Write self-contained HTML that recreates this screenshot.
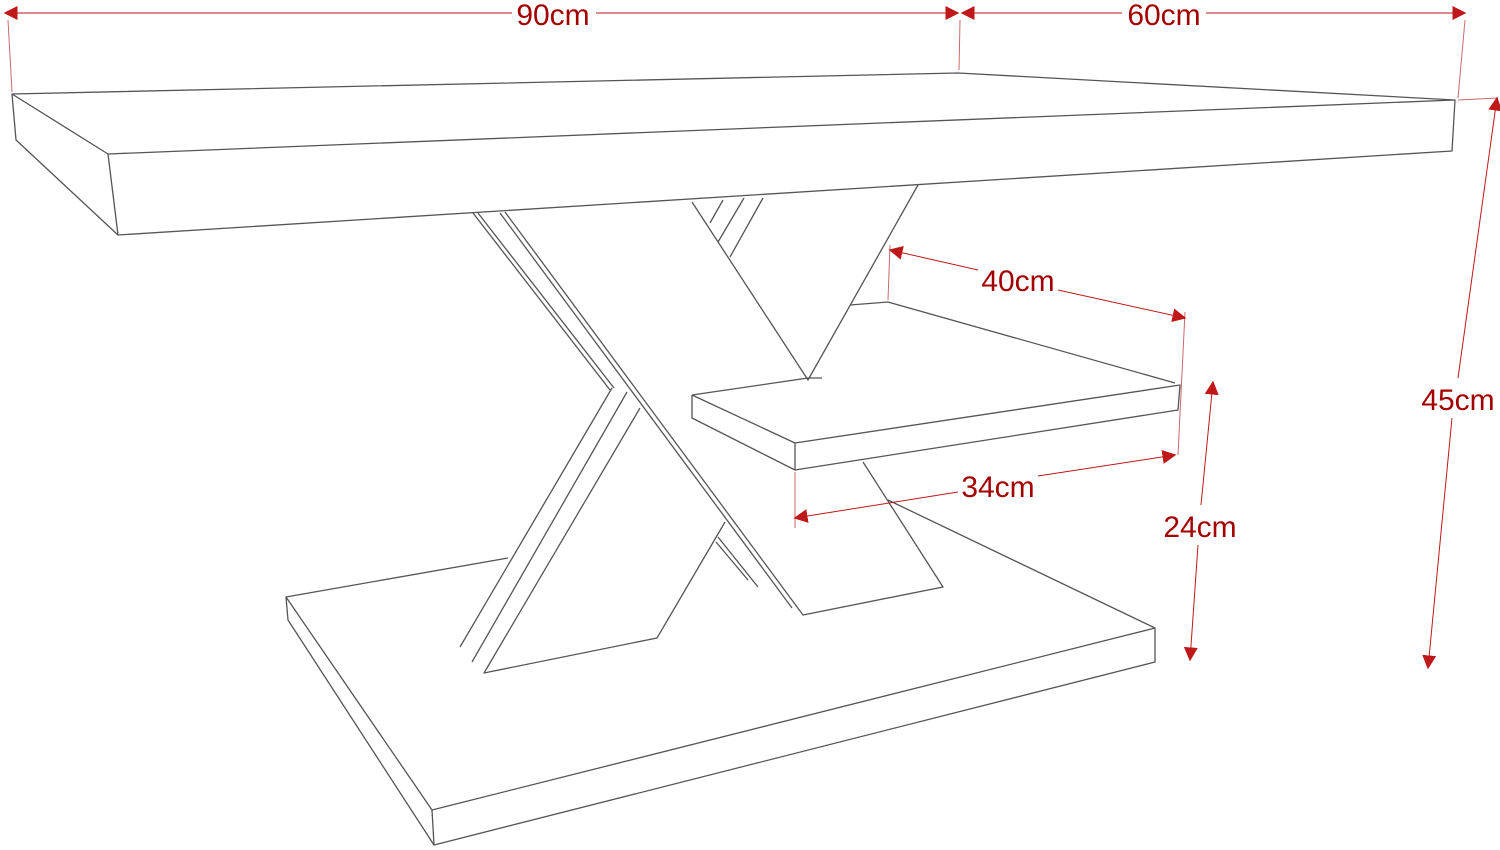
<!DOCTYPE html>
<html><head><meta charset="utf-8"><style>
html,body{margin:0;padding:0;background:#fff;width:1500px;height:850px;overflow:hidden}
text{font-family:"Liberation Sans",sans-serif;font-size:30px;fill:#a30000}
</style></head><body>
<svg width="1500" height="850" viewBox="0 0 1500 850" xmlns="http://www.w3.org/2000/svg">
<defs>
<marker id="a" viewBox="0 0 10 10" refX="9" refY="5" markerWidth="14" markerHeight="14" markerUnits="userSpaceOnUse" orient="auto"><path d="M0,0L10,5L0,10z" fill="#b80000"/></marker>
</defs>
<g fill="none" stroke="#555" stroke-width="1.3" stroke-linejoin="round">
<path d="M12,94 L958,73 L1455,100 L108,154 Z"/>
<path d="M108,154 L118,235 L1452,151 L1455,100"/>
<path d="M12,94 L16,140 L118,235"/>
<path d="M473,213 L610,390"/>
<path d="M478,213 L614,388"/>
<path d="M500,213 L792,608"/>
<path d="M505,212 L803,615 L943,587 L863,462"/>
<path d="M692,202 L808,380 L918,185"/>
<path d="M710,223 L723,200 M718,242 L744,198 M730,257 L763,198"/>
<path d="M612,388 L460,647"/>
<path d="M627,392 L472,662"/>
<path d="M640,408 L484,673 L657,638 L725,522"/>
<path d="M718,537 L758,587 M716,542 L748,580"/>
<path d="M692,395 L808,378 L822,378"/>
<path d="M850,305 L888,302 L1175,383"/>
<path d="M692,395 L795,443 L1180,385 L1178,410 L795,470 L795,443"/>
<path d="M692,395 L692,418 L795,470"/>
<path d="M286,597 L508,558"/>
<path d="M888,500 L1155,628 L1155,662 L434,845 L288,620 L286,597 L432,810 L1155,628"/>
<path d="M432,810 L434,845"/>
</g>
<g fill="none" stroke="#c05050" stroke-width="1" opacity="0.85">
<path d="M8,20 L12,92 M960,20 L959,70 M1465,20 L1458,98 M1458,100 L1498,98"/>
<path d="M890,245 L888,300 M1185,312 L1178,455 M795,472 L795,528"/>
</g>
<g stroke="#b80000" stroke-width="1" fill="none" opacity="0.9">
<line x1="512" y1="13" x2="5" y2="13" marker-end="url(#a)"/>
<line x1="596" y1="13" x2="958" y2="13" marker-end="url(#a)"/>
<line x1="1122" y1="13" x2="962" y2="13" marker-end="url(#a)"/>
<line x1="1206" y1="13" x2="1465" y2="13" marker-end="url(#a)"/>
<line x1="1458" y1="378" x2="1497" y2="98" marker-end="url(#a)"/>
<line x1="1452" y1="418" x2="1428" y2="668" marker-end="url(#a)"/>
<line x1="1201" y1="505" x2="1213" y2="382" marker-end="url(#a)"/>
<line x1="1198" y1="545" x2="1190" y2="660" marker-end="url(#a)"/>
<line x1="978" y1="270" x2="890" y2="250" marker-end="url(#a)"/>
<line x1="1058" y1="290" x2="1185" y2="318" marker-end="url(#a)"/>
<line x1="958" y1="492" x2="795" y2="518" marker-end="url(#a)"/>
<line x1="1038" y1="476" x2="1175" y2="455" marker-end="url(#a)"/>
</g>
<text x="553" y="25" text-anchor="middle">90cm</text>
<text x="1164" y="25" text-anchor="middle">60cm</text>
<text x="1458" y="410" text-anchor="middle">45cm</text>
<text x="1200" y="537" text-anchor="middle">24cm</text>
<text x="1018" y="291" text-anchor="middle">40cm</text>
<text x="998" y="497" text-anchor="middle">34cm</text>
</svg>
</body></html>
